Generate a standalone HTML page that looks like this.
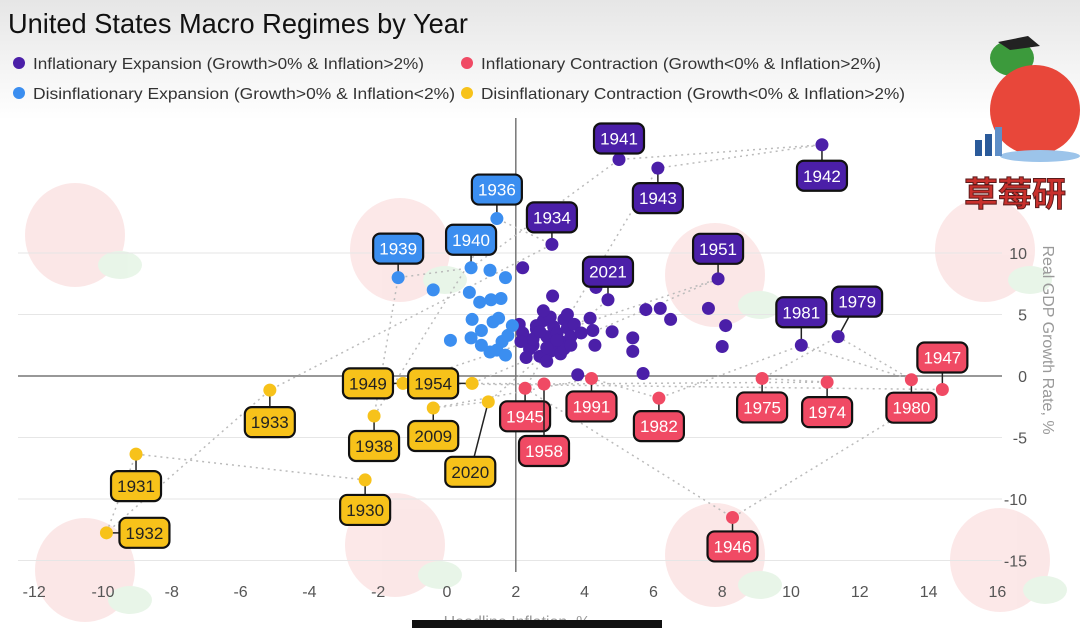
<!DOCTYPE html>
<html><head><meta charset="utf-8"><style>
html,body{margin:0;padding:0;background:#fff;}
svg{display:block;font-family:"Liberation Sans","Noto Sans CJK SC",sans-serif;}
</style></head><body>
<svg id="chart" width="1080" height="628" viewBox="0 0 1080 628" xmlns="http://www.w3.org/2000/svg">
<defs>
<linearGradient id="topg" x1="0" y1="0" x2="0" y2="1"><stop offset="0" stop-color="#e6e6e6"/><stop offset="1" stop-color="#ffffff"/></linearGradient>
</defs>
<rect x="0" y="0" width="1080" height="628" fill="#fff"/>
<rect x="0" y="0" width="1080" height="120" fill="url(#topg)"/>
<g id="bg" opacity="0.2"></g>
<g id="grid"></g>
<g id="paths"></g>
<g id="marks"></g>
<g id="labels"></g>
<text x="8" y="33" font-size="28" fill="#111" textLength="460" lengthAdjust="spacingAndGlyphs">United States Macro Regimes by Year</text>
<g font-size="16" fill="#333">
 <g><circle cx="19" cy="63" r="6" fill="#4b1fa8"/><text x="33" y="69" textLength="391" lengthAdjust="spacingAndGlyphs">Inflationary Expansion (Growth&gt;0% &amp; Inflation&gt;2%)</text></g>
 <g><circle cx="467" cy="63" r="6" fill="#f04a64"/><text x="481" y="69" textLength="400" lengthAdjust="spacingAndGlyphs">Inflationary Contraction (Growth&lt;0% &amp; Inflation&gt;2%)</text></g>
 <g><circle cx="19" cy="93" r="6" fill="#3b8ef0"/><text x="33" y="99" textLength="422" lengthAdjust="spacingAndGlyphs">Disinflationary Expansion (Growth&gt;0% &amp; Inflation&lt;2%)</text></g>
 <g><circle cx="467" cy="93" r="6" fill="#f7c21a"/><text x="481" y="99" textLength="424" lengthAdjust="spacingAndGlyphs">Disinflationary Contraction (Growth&lt;0% &amp; Inflation&gt;2%)</text></g>
</g>
<g>
 <ellipse cx="1012" cy="58" rx="22" ry="18" fill="#3c9a3c"/>
 <path d="M998 42 L1028 36 L1040 46 L1010 50 Z" fill="#222"/>
 <ellipse cx="1035" cy="110" rx="45" ry="45" fill="#e8473a"/>
 <ellipse cx="1040" cy="156" rx="40" ry="6" fill="#9cc4ea"/>
 <rect x="975" y="140" width="7" height="16" fill="#2a5a9a"/><rect x="985" y="134" width="7" height="22" fill="#2a5a9a"/><rect x="995" y="127" width="7" height="29" fill="#5f8fc8"/>
 <text x="964" y="206" font-size="34" font-weight="bold" fill="#c9302c" stroke="#5a1a1a" stroke-width="1">草莓研</text>
</g>
<rect x="412" y="620" width="250" height="8" fill="#111"/>
</svg>
<script>
// ---- data ----
const labeledYears = [1930,1931,1932,1933,1934,1936,1938,1939,1940,1941,1942,1943,1945,1946,1947,1949,1951,1954,1958,1974,1975,1979,1980,1981,1982,1991,2009,2020,2021];
const labeledInfl  = [-2.38,-9.04,-9.9,-5.15,3.05,1.45,-2.12,-1.42,0.7,5.0,10.9,6.13,2.27,8.3,14.4,-1.28,7.88,0.73,2.82,11.05,9.16,11.37,13.5,10.3,6.16,4.2,-0.4,1.2,4.68];
const labeledGrowth= [-8.45,-6.35,-12.75,-1.15,10.7,12.8,-3.25,8.0,8.8,17.6,18.8,16.9,-1.0,-11.5,-1.1,-0.6,7.9,-0.6,-0.65,-0.5,-0.2,3.2,-0.3,2.5,-1.8,-0.2,-2.6,-2.1,6.2];
const otherInfl   = [2.2,3.07,4.33,5.78,6.2,6.5,7.6,8.1,8.0,4.8,5.4,5.4,5.7,3.8,4.16,4.24,4.3,
  2.1,2.3,2.5,2.6,2.8,2.9,3.0,3.1,3.2,3.3,3.4,3.5,3.6,2.4,2.7,2.9,3.1,3.3,3.5,2.2,2.6,3.0,3.4,3.7,2.5,2.8,3.2,2.3,2.9,3.6,3.9,2.15,2.7,
  -0.4,1.25,1.7,0.65,0.95,1.28,1.57,0.73,1.34,1.5,0.1,1.0,1.25,1.45,1.6,1.77,1.9,1.0,0.7,1.7];
const otherGrowth = [8.8,6.5,7.2,5.4,5.5,4.6,5.5,4.1,2.4,3.6,3.1,2.0,0.2,0.1,4.7,3.7,2.5,
  4.2,3.0,2.5,3.8,4.5,3.2,2.0,4.0,3.5,2.8,4.6,3.9,3.2,2.2,1.6,1.2,2.6,1.8,5.0,3.5,4.1,4.8,2.2,4.2,3.0,5.3,2.9,1.5,2.3,2.5,3.5,2.8,3.6,
  7.0,8.6,8.0,6.8,6.0,6.2,6.3,4.6,4.4,4.7,2.9,2.5,1.95,2.1,2.8,3.3,4.1,3.7,3.1,1.7];
const xTicks = [-12,-10,-8,-6,-4,-2,0,2,4,6,8,10,12,14,16];
const yTicks = [10,5,0,-5,-10,-15];

// ---- scales ----
const X = v => 447 + v*34.4;
const Y = v => 376 - v*12.3;
const NS = "http://www.w3.org/2000/svg";
function mk(tag, attrs, parent){const e=document.createElementNS(NS,tag);for(const k in attrs)e.setAttribute(k,attrs[k]);parent.appendChild(e);return e;}
function color(i,g){ if(g>=0) return i>=2?"#4b1fa8":"#3b8ef0"; return i>=2?"#f04a64":"#f7c21a"; }

// watermarks
const bg=document.getElementById('bg');
[[75,235],[400,250],[715,275],[985,250],[85,570],[395,545],[715,555],[1000,560]].forEach(p=>{
  const e=mk('ellipse',{cx:p[0],cy:p[1],rx:50,ry:52,fill:'#f08a8a'},bg);
  
  
  const lf=mk('ellipse',{cx:p[0]+45,cy:p[1]+30,rx:22,ry:14,fill:'#8fd08f'},bg);
  
  
});

// grid + axes
const grid=document.getElementById('grid');
yTicks.forEach(t=>{
  const l=mk('line',{x1:18,x2:1002,y1:Y(t),y2:Y(t),stroke:t===0?'#777':'#e6e6e6','stroke-width':t===0?1.5:1},grid);
  
  
  const tx=mk('text',{x:1027,y:Y(t)+6,'font-size':16,fill:'#555','text-anchor':'end'},grid);
  tx.textContent=t;
  
  
});
const vz=mk('line',{x1:X(2),x2:X(2),y1:118,y2:572,stroke:'#777','stroke-width':1.5},grid);


xTicks.forEach(t=>{
  const tx=mk('text',{x:X(t),y:597,'font-size':16,fill:'#555','text-anchor':'middle'},grid);
  tx.textContent=t;
  
  
});
const xt=mk('text',{x:517,y:627,'font-size':16,fill:'#999','text-anchor':'middle'},grid);
xt.textContent='Headline Inflation, %';


const yt=mk('text',{x:0,y:0,'font-size':16,fill:'#999','text-anchor':'middle',transform:'translate(1043,340) rotate(90)'},grid);
yt.textContent='Real GDP Growth Rate, %';



// dotted year path
const paths=document.getElementById('paths');
let d='';
labeledYears.forEach((y,i)=>{d+=(i?'L':'M')+X(labeledInfl[i]).toFixed(1)+' '+Y(labeledGrowth[i]).toFixed(1);});
const pth=mk('path',{d:d,fill:'none',stroke:'#bbb','stroke-width':1.5,'stroke-dasharray':'2 4'},paths);



// points
const marks=document.getElementById('marks');
otherInfl.forEach((v,i)=>{
  const c=mk('circle',{cx:X(v),cy:Y(otherGrowth[i]),r:6.5,fill:color(v,otherGrowth[i])},marks);
  
  
});

// label offsets [dx,dy] relative to dot (layout)
const offs={1930:[0,30],1931:[0,32],1932:[38,0],1933:[0,32],1934:[0,-27],1936:[0,-29],1938:[0,30],1939:[0,-29],1940:[0,-28],1941:[0,-21],1942:[0,31],1943:[0,30],1945:[0,28],1946:[0,29],1947:[0,-32],1949:[-35,0],1951:[0,-30],1954:[-39,0],1958:[0,67],1974:[0,30],1975:[0,29],1979:[19,-35],1980:[0,28],1981:[0,-33],1982:[0,28],1991:[0,28],2009:[0,28],2020:[-18,70],2021:[0,-28]};
const lab=document.getElementById('labels');
labeledYears.forEach((yr,i)=>{
  const cx=X(labeledInfl[i]), cy=Y(labeledGrowth[i]);
  const col=color(labeledInfl[i],labeledGrowth[i]);
  const o=offs[yr]||[0,-28];
  const lx=cx+o[0], ly=cy+o[1];
  const g=mk('g',{},lab);
  
  
  mk('line',{x1:cx,y1:cy,x2:lx,y2:ly,stroke:'#222','stroke-width':1.5},g);
  mk('circle',{cx:cx,cy:cy,r:6.5,fill:col},g);
  mk('rect',{x:lx-25,y:ly-15,width:50,height:30,rx:7,fill:col,stroke:'#111','stroke-width':2.2},g);
  const t=mk('text',{x:lx,y:ly+6,'font-size':17,'text-anchor':'middle',fill:col==='#f7c21a'?'#222':'#fff'},g);
  t.textContent=yr;
});
</script>
</body></html>
